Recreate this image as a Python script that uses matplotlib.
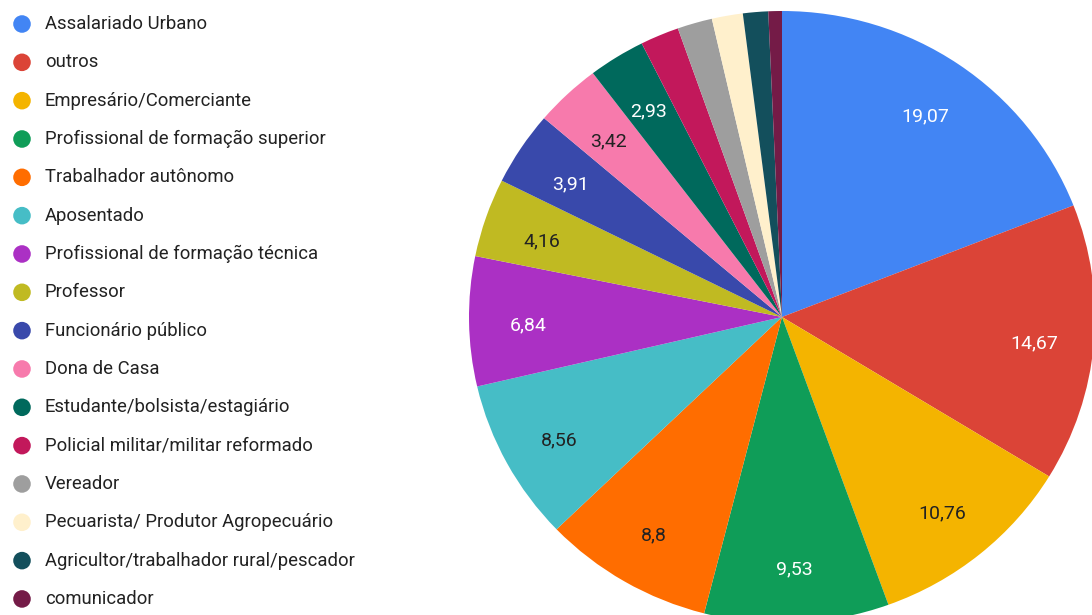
import matplotlib
matplotlib.use("Agg")
import matplotlib.pyplot as plt
import numpy as np

plt.rcParams["font.family"] = ["Roboto", "DejaVu Sans"]

LABELS = [
    "Assalariado Urbano",
    "outros",
    "Empresário/Comerciante",
    "Profissional de formação superior",
    "Trabalhador autônomo",
    "Aposentado",
    "Profissional de formação técnica",
    "Professor",
    "Funcionário público",
    "Dona de Casa",
    "Estudante/bolsista/estagiário",
    "Policial militar/militar reformado",
    "Vereador",
    "Pecuarista/ Produtor Agropecuário",
    "Agricultor/trabalhador rural/pescador",
    "comunicador",
]
VALUES = [19.07, 14.67, 10.76, 9.53, 8.8, 8.56, 6.84, 4.16, 3.91, 3.42, 2.93,
          2.0, 1.8, 1.6, 1.3, 0.7]
SHOW_LABEL = [True] * 11 + [False] * 5

COLORS = ["#4285F4", "#DB4437", "#F4B400", "#0F9D58", "#FF6D00", "#46BDC6",
          "#AB30C4", "#C0BA22", "#3949AB", "#F77AAC", "#00695C", "#C2185B",
          "#9E9E9E", "#FFF0CC", "#134F5C", "#741B47"]
DARK_TEXT = {"#F4B400", "#FF6D00", "#46BDC6", "#C0BA22", "#F77AAC"}

W, H = 1092, 615
fig = plt.figure(figsize=(W / 100, H / 100), dpi=100)

# pie (slightly wider than tall, as in the reference)
cx, cy, rx, ry = 782, 317, 313, 306
ax = fig.add_axes([(cx - rx) / W, (H - cy - ry) / H, 2 * rx / W, 2 * ry / H])
wedges, _ = ax.pie(VALUES, colors=COLORS, startangle=90, counterclock=False,
                   wedgeprops=dict(linewidth=0), radius=1)
ax.set_xlim(-1, 1)
ax.set_ylim(-1, 1)
ax.set_aspect("auto")
ax.axis("off")

total = sum(VALUES)
start = 90.0
for v, c, show in zip(VALUES, COLORS, SHOW_LABEL):
    span = v / total * 360
    mid = np.deg2rad(start - span / 2)
    start -= span
    if not show:
        continue
    d = 0.81
    ax.text(d * np.cos(mid), d * np.sin(mid) - 0.015, f"{v:g}".replace(".", ","),
            ha="center", va="center", fontsize=14,
            color="#222222" if c in DARK_TEXT else "white")

# legend
lax = fig.add_axes([0, 0, 1, 1])
lax.set_xlim(0, W)
lax.set_ylim(H, 0)
lax.axis("off")
y0, step = 24, 38.33
for i, (lab, c) in enumerate(zip(LABELS, COLORS)):
    y = y0 + i * step
    lax.scatter([22], [y], s=160, color=c, edgecolors="none")
    lax.text(45, y, lab, ha="left", va="center", fontsize=13.3, color="#222222")

fig.savefig("out.png", dpi=100)
